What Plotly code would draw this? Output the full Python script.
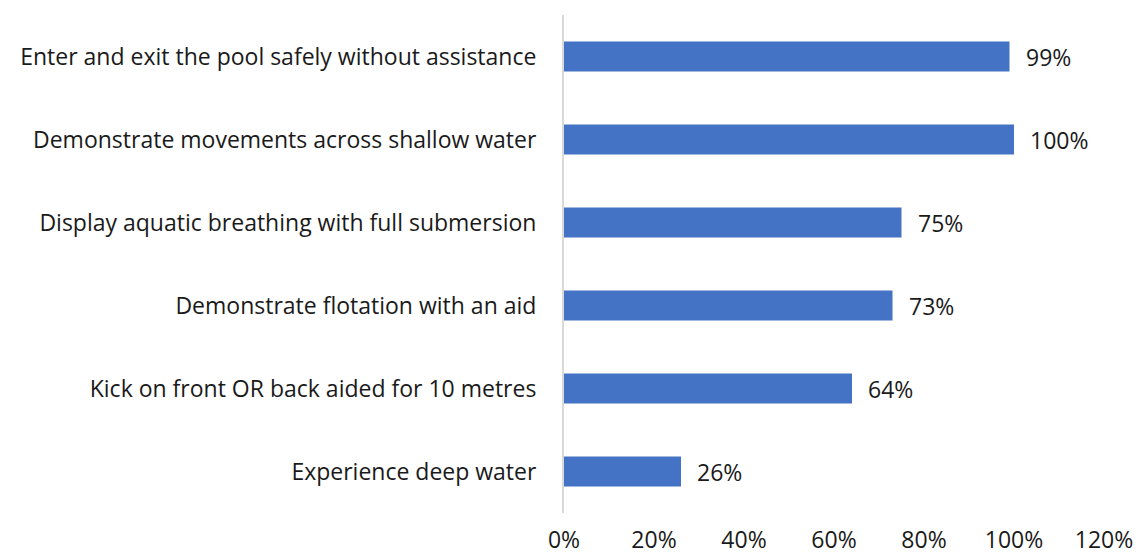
import plotly.graph_objects as go

# Share of children achieving each skill
skills = [
    "Enter and exit the pool safely without assistance",
    "Demonstrate movements across shallow water",
    "Display aquatic breathing with full submersion",
    "Demonstrate flotation with an aid",
    "Kick on front OR back aided for 10 metres",
    "Experience deep water",
]
shares = [0.99, 1.00, 0.75, 0.73, 0.64, 0.26]
tick_vals = [0, 0.2, 0.4, 0.6, 0.8, 1.0, 1.2]
tick_text = ["0%", "20%", "40%", "60%", "80%", "100%", "120%"]

FONT = "Open Sans"
SIZE = 23
TEXT_COLOR = "#1a1a1a"

fig = go.Figure(
    go.Bar(
        x=shares,
        y=skills,
        orientation="h",
        marker=dict(color="#4472C4", line=dict(width=0)),
        width=0.36,
        hoverinfo="x+y",
    )
)

# Value labels sit a little to the right of each bar end
for skill, value in zip(skills, shares):
    fig.add_annotation(
        x=value,
        y=skill,
        text=f"{round(value * 100)}%",
        showarrow=False,
        xanchor="left",
        yanchor="middle",
        xshift=14,
        font=dict(family=FONT, size=SIZE, color=TEXT_COLOR),
    )

fig.update_layout(
    width=1138,
    height=554,
    margin=dict(l=564, r=34, t=15, b=41),
    plot_bgcolor="white",
    paper_bgcolor="white",
    showlegend=False,
    font=dict(family=FONT, size=SIZE, color=TEXT_COLOR),
)

fig.update_xaxes(
    range=[0, 1.2],
    tickvals=tick_vals,
    ticktext=tick_text,
    showgrid=False,
    zeroline=False,
    showline=False,
    ticks="outside",
    ticklen=6,
    tickcolor="rgba(0,0,0,0)",
    tickfont=dict(family=FONT, size=SIZE, color=TEXT_COLOR),
    automargin=False,
)

fig.update_yaxes(
    categoryorder="array",
    categoryarray=skills[::-1],
    showgrid=False,
    zeroline=False,
    showline=True,
    linecolor="#d9d9d9",
    linewidth=2,
    ticks="outside",
    ticklen=21,
    tickcolor="rgba(0,0,0,0)",
    tickfont=dict(family=FONT, size=SIZE, color=TEXT_COLOR),
    automargin=False,
)

fig.write_html("out.html")
